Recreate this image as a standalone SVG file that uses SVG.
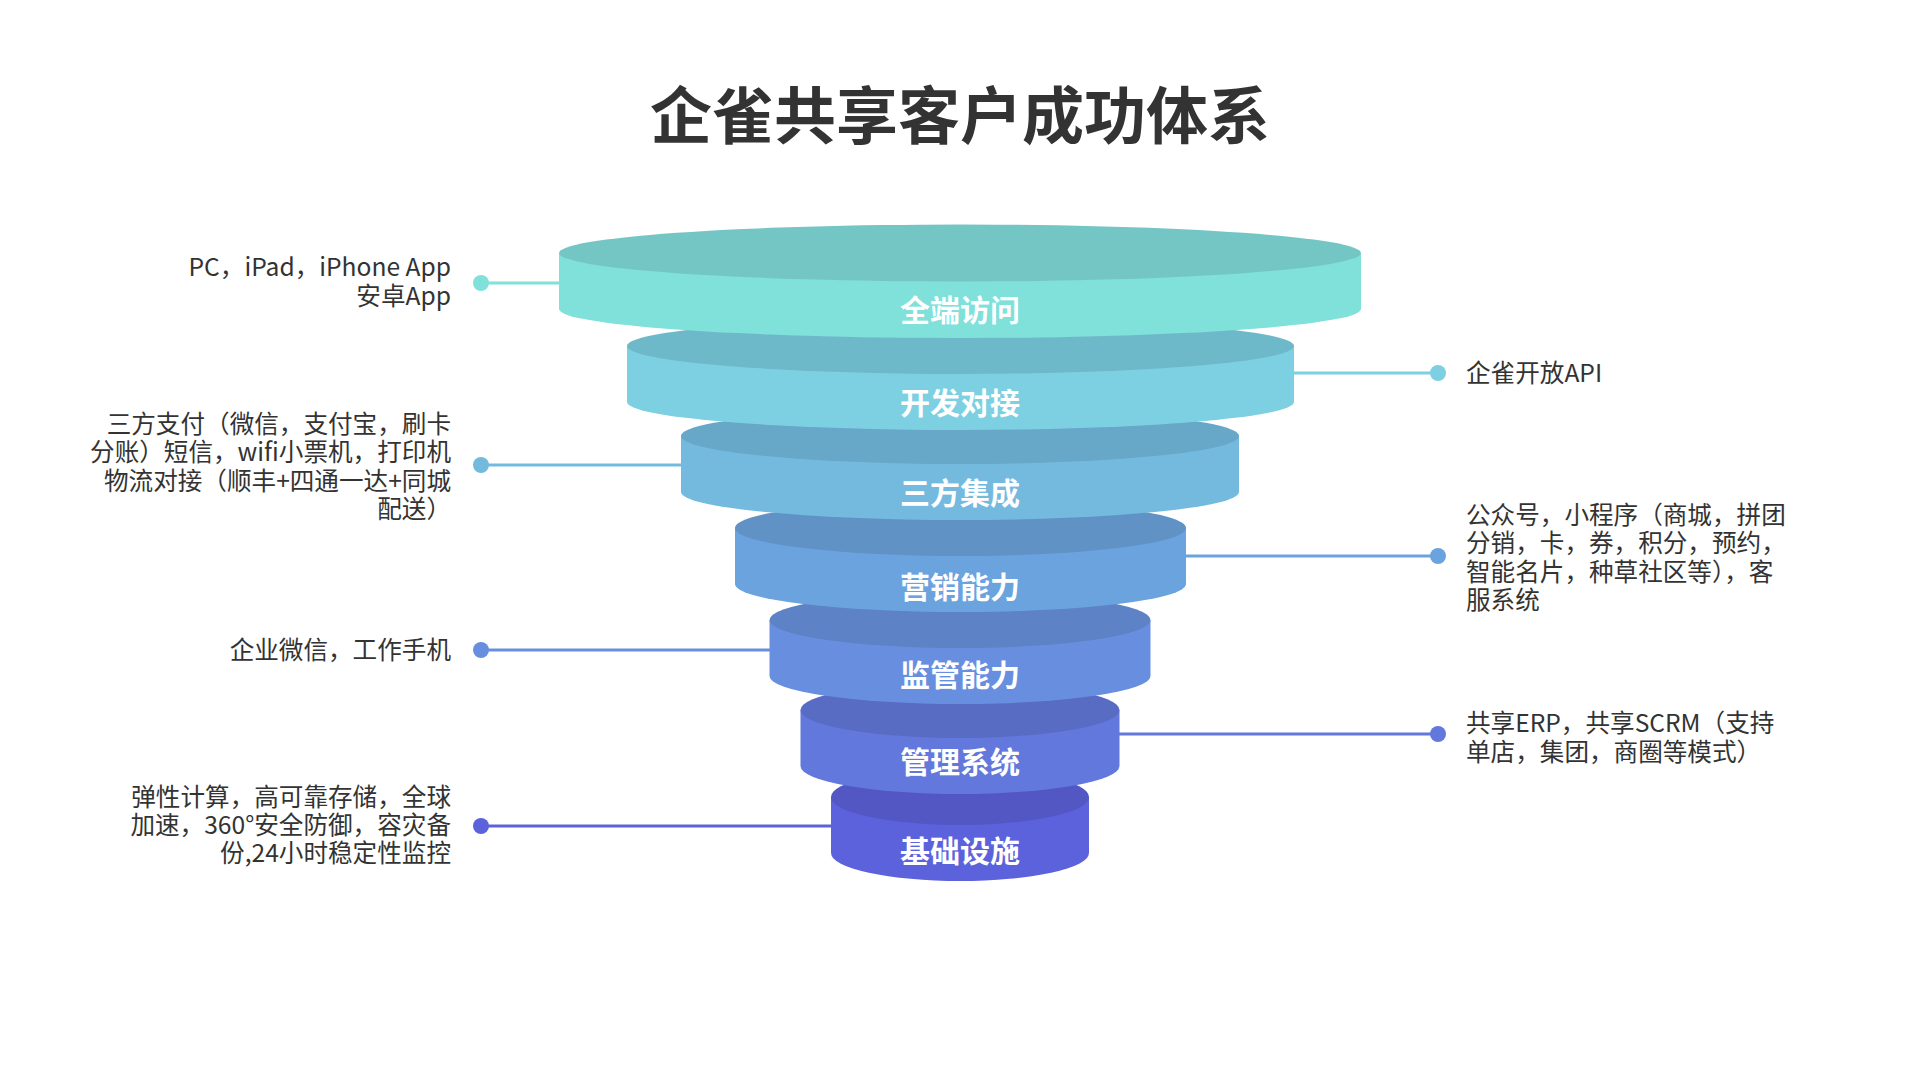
<svg xmlns="http://www.w3.org/2000/svg" width="1920" height="1080" viewBox="0 0 1920 1080">
<style>
text{font-family:"Noto Sans CJK SC","Noto Sans",sans-serif}
.title{font-size:62px;font-weight:700;fill:#333;text-anchor:middle}
.lbl{font-size:30px;font-weight:700;fill:#fff;text-anchor:middle}
.dl{font-size:24.6px;fill:#333;text-anchor:end}
.dr{font-size:24.6px;fill:#333;text-anchor:start}
.ln{stroke-width:3;fill:none}
</style>
<rect width="1920" height="1080" fill="#fff"/>
<text class="title" x="960" y="139">企雀共享客户成功体系</text>
<g id="connectors">
<line class="ln" x1="481" y1="283" x2="562" y2="283" stroke="#80E0DA"/>
<circle cx="481" cy="283" r="8" fill="#80E0DA"/>
<line class="ln" x1="1290" y1="373" x2="1438" y2="373" stroke="#7DD0E1"/>
<circle cx="1438" cy="373" r="8" fill="#7DD0E1"/>
<line class="ln" x1="481" y1="465" x2="684" y2="465" stroke="#74BADF"/>
<circle cx="481" cy="465" r="8" fill="#74BADF"/>
<line class="ln" x1="1182" y1="556" x2="1438" y2="556" stroke="#6BA3DE"/>
<circle cx="1438" cy="556" r="8" fill="#6BA3DE"/>
<line class="ln" x1="481" y1="650" x2="773" y2="650" stroke="#688FDF"/>
<circle cx="481" cy="650" r="8" fill="#688FDF"/>
<line class="ln" x1="1117" y1="734" x2="1438" y2="734" stroke="#6378DC"/>
<circle cx="1438" cy="734" r="8" fill="#6378DC"/>
<line class="ln" x1="481" y1="826" x2="834" y2="826" stroke="#5C62DC"/>
<circle cx="481" cy="826" r="8" fill="#5C62DC"/>
</g>
<g id="layer7">
<path d="M831 797 V853 A129 28 0 0 0 1089 853 V797 Z" fill="#5C62DC"/>
<ellipse cx="960" cy="797" rx="129" ry="28" fill="#5357C4"/>
<text class="lbl" x="960" y="862">基础设施</text>
</g>
<g id="layer6">
<path d="M800.5 710 V766 A159.5 28 0 0 0 1119.5 766 V710 Z" fill="#6378DC"/>
<ellipse cx="960" cy="710" rx="159.5" ry="28" fill="#596CC3"/>
<text class="lbl" x="960" y="773">管理系统</text>
</g>
<g id="layer5">
<path d="M769.5 620 V676 A190.5 28 0 0 0 1150.5 676 V620 Z" fill="#688FDF"/>
<ellipse cx="960" cy="620" rx="190.5" ry="28" fill="#5D82C6"/>
<text class="lbl" x="960" y="686">监管能力</text>
</g>
<g id="layer4">
<path d="M735 528 V584 A225.5 28 0 0 0 1186 584 V528 Z" fill="#6BA3DE"/>
<ellipse cx="960.5" cy="528" rx="225.5" ry="28" fill="#6092C6"/>
<text class="lbl" x="960" y="598">营销能力</text>
</g>
<g id="layer3">
<path d="M681 436 V492 A279 28 0 0 0 1239 492 V436 Z" fill="#74BADF"/>
<ellipse cx="960" cy="436" rx="279" ry="28" fill="#67A7C7"/>
<text class="lbl" x="960" y="504">三方集成</text>
</g>
<g id="layer2">
<path d="M627 346 V402 A333.5 28 0 0 0 1294 402 V346 Z" fill="#7DD0E1"/>
<ellipse cx="960.5" cy="346" rx="333.5" ry="28" fill="#6EB9C9"/>
<text class="lbl" x="960" y="414">开发对接</text>
</g>
<g id="layer1">
<path d="M559 253 V309 A401 29 0 0 0 1361 309 V253 Z" fill="#80E0DA"/>
<ellipse cx="960" cy="253" rx="401" ry="28.5" fill="#74C6C5"/>
<text class="lbl" x="960" y="321">全端访问</text>
</g>
<g id="desc-left">
<text class="dl" x="451"><tspan x="451" y="276">PC，iPad，iPhone App</tspan><tspan x="451" y="305">安卓App</tspan></text>
<text class="dl" x="451"><tspan x="451" y="433">三方支付（微信，支付宝，刷卡</tspan><tspan x="451" y="461">分账）短信，wifi小票机，打印机</tspan><tspan x="451" y="490">物流对接（顺丰+四通一达+同城</tspan><tspan x="451" y="518">配送）</tspan></text>
<text class="dl" x="451" y="659">企业微信，工作手机</text>
<text class="dl" x="451"><tspan x="451" y="806">弹性计算，高可靠存储，全球</tspan><tspan x="451" y="834">加速，360°安全防御，容灾备</tspan><tspan x="451" y="862">份,24小时稳定性监控</tspan></text>
</g>
<g id="desc-right">
<text class="dr" x="1466" y="382">企雀开放API</text>
<text class="dr"><tspan x="1466" y="524">公众号，小程序（商城，拼团</tspan><tspan x="1466" y="552">分销，卡，券，积分，预约，</tspan><tspan x="1466" y="581">智能名片，种草社区等），客</tspan><tspan x="1466" y="609">服系统</tspan></text>
<text class="dr"><tspan x="1466" y="732">共享ERP，共享SCRM（支持</tspan><tspan x="1466" y="761">单店，集团，商圈等模式）</tspan></text>
</g>
</svg>
